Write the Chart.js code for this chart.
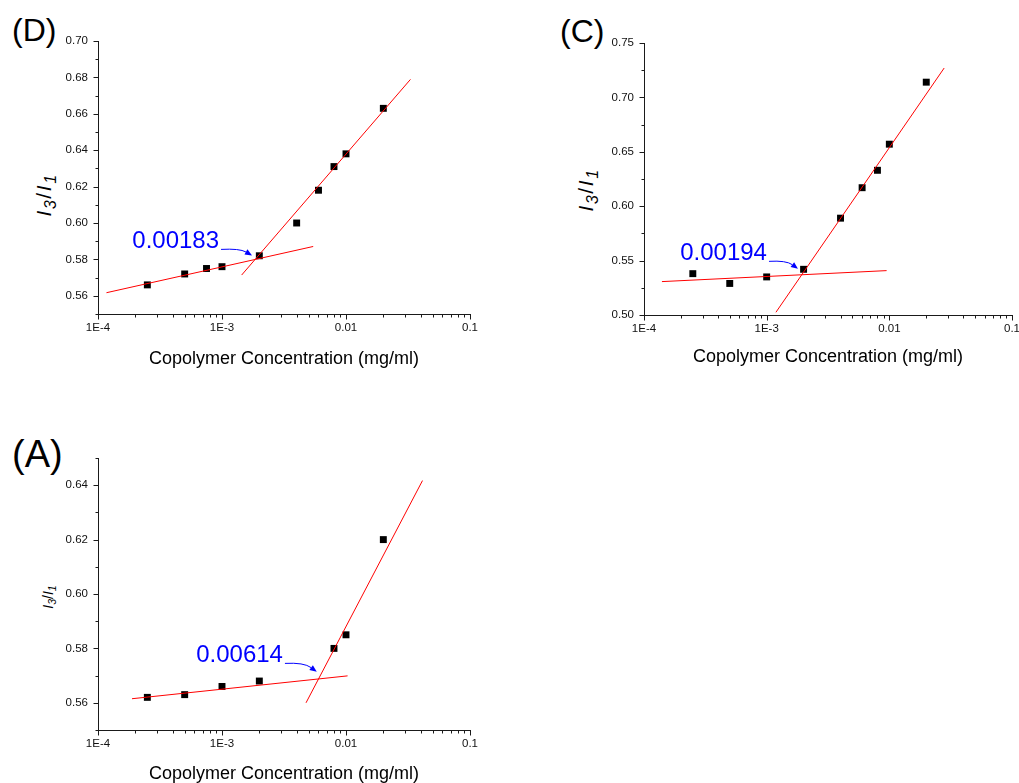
<!DOCTYPE html>
<html>
<head>
<meta charset="utf-8">
<script src="https://cdn.jsdelivr.net/npm/chart.js@4.4.1/dist/chart.umd.min.js"></script>
<style>
  html, body { margin: 0; padding: 0; background: #fff; overflow: hidden; width: 1019px; height: 783px; }
  body { position: relative; font-family: Arial, "Liberation Sans", sans-serif; color: #000; }
  canvas { position: absolute; }
  .panel { position: absolute; line-height: 1; white-space: nowrap; }
  .ytitle { position: absolute; line-height: 1; white-space: nowrap; transform: translate(-50%, -50%) rotate(-90deg); }
  .ytitle i { font-style: italic; }
  .ytitle span { font-size: 0.75em; vertical-align: -0.28em; font-style: italic; }
</style>
</head>
<body>
<div class="panel" style="left:12px; top:13.6px; font-size:32px;">(D)</div>
<div class="panel" style="left:560px; top:14.6px; font-size:32px;">(C)</div>
<div class="panel" style="left:12px; top:434.5px; font-size:38px;">(A)</div>

<div class="ytitle" style="left:46px; top:195px; font-size:21px; letter-spacing:1.6px;"><i>I</i><span>3</span>/<i>I</i><span>1</span></div>
<div class="ytitle" style="left:588px; top:190px; font-size:21px; letter-spacing:1.6px;"><i>I</i><span>3</span>/<i>I</i><span>1</span></div>
<div class="ytitle" style="left:49px; top:597px; font-size:14px;"><i>I</i><span>3</span>/<i>I</i><span>1</span></div>

<canvas id="chartD" width="500" height="380" style="left:0px; top:0px;"></canvas>
<canvas id="chartC" width="500" height="380" style="left:540px; top:0px;"></canvas>
<canvas id="chartA" width="500" height="380" style="left:0px; top:420px;"></canvas>

<script>
// x axis (log) ticks
const xTicks = [1e-4, 1e-3, 1e-2, 1e-1];
const xTickLabels = ['1E-4', '1E-3', '0.01', '0.1'];

// (D)
const concD = [2.5e-4, 5e-4, 7.5e-4, 1e-3, 2e-3, 4e-3, 6e-3, 8e-3, 1e-2, 2e-2];
const ratioD = [0.566, 0.572, 0.575, 0.576, 0.582, 0.600, 0.618, 0.631, 0.638, 0.663];
const lowFitD = [[1.17e-4, 0.5617], [5.44e-3, 0.5871]];
const highFitD = [[1.44e-3, 0.5714], [3.31e-2, 0.6789]];
const yTicksD = [0.56, 0.58, 0.60, 0.62, 0.64, 0.66, 0.68, 0.70];

// (C)
const concC = [2.5e-4, 5e-4, 1e-3, 2e-3, 4e-3, 6e-3, 8e-3, 1e-2, 2e-2];
const ratioC = [0.538, 0.529, 0.535, 0.542, 0.589, 0.617, 0.633, 0.657, 0.714];
const lowFitC = [[1.4e-4, 0.5307], [9.5e-3, 0.5408]];
const highFitC = [[1.19e-3, 0.5025], [2.8e-2, 0.727]];
const yTicksC = [0.50, 0.55, 0.60, 0.65, 0.70, 0.75];

// (A)
const concA = [2.5e-4, 5e-4, 1e-3, 2e-3, 8e-3, 1e-2, 2e-2];
const ratioA = [0.562, 0.563, 0.566, 0.568, 0.580, 0.585, 0.620];
const lowFitA = [[1.88e-4, 0.5615], [1.03e-2, 0.5699]];
const highFitA = [[4.76e-3, 0.5600], [4.14e-2, 0.6417]];
const yTicksA = [0.56, 0.58, 0.60, 0.62, 0.64];

const FONT = 'Arial, "Liberation Sans", sans-serif';
const AXIS = '#1a1a1a';

const decor = {
  id: 'decor',
  afterDraw(chart, args, opts) {
    const ctx = chart.ctx;
    const xs = chart.scales.x, ys = chart.scales.y;
    const area = chart.chartArea;
    ctx.save();
    ctx.strokeStyle = AXIS;
    ctx.lineWidth = 1;
    ctx.beginPath();
    const b = Math.round(area.bottom) + 0.5;
    const lo = Math.round(Math.log10(xs.min)), hi = Math.round(Math.log10(xs.max));
    for (let e = lo; e <= hi; e++) {
      for (let m = 1; m <= 9; m++) {
        const v = m * Math.pow(10, e);
        if (v > xs.max * 1.0001) break;
        const px = Math.round(xs.getPixelForValue(v)) + 0.5;
        ctx.moveTo(px, b);
        ctx.lineTo(px, b + (m === 1 ? 5 : 3));
      }
    }
    const l = Math.round(area.left) + 0.5;
    const yt = opts.yTicks;
    const step = yt[1] - yt[0];
    const minors = yt.map(v => v - step / 2).concat([yt[yt.length - 1] + step / 2]);
    yt.forEach(v => {
      const py = Math.round(ys.getPixelForValue(v)) + 0.5;
      ctx.moveTo(l, py); ctx.lineTo(l - 5, py);
    });
    minors.forEach(v => {
      if (v < ys.min - 1e-9 || v > ys.max + 1e-9) return;
      const py = Math.round(ys.getPixelForValue(v)) + 0.5;
      ctx.moveTo(l, py); ctx.lineTo(l - 3, py);
    });
    ctx.stroke();

    // annotation text + curved arrow
    const a = opts.note;
    const ix = xs.getPixelForValue(a.x), iy = ys.getPixelForValue(a.y);
    const tx = ix + a.textDx, ty = iy + a.textDy;
    ctx.fillStyle = '#0000ff';
    ctx.strokeStyle = '#0000ff';
    ctx.font = '24px ' + FONT;
    ctx.textAlign = 'right';
    ctx.textBaseline = 'alphabetic';
    ctx.fillText(a.text, tx, ty);
    const sx = tx + 2, sy = ty + 1;
    const ex = ix + a.tipDx, ey = iy + a.tipDy;
    const cx = sx + (ex - sx) * 0.6, cy = sy - 1;
    const ang = Math.atan2(ey - cy, ex - cx);
    const hl = 7, hw = 3;
    const bx = ex - hl * Math.cos(ang), by = ey - hl * Math.sin(ang);
    ctx.beginPath();
    ctx.moveTo(sx, sy);
    ctx.quadraticCurveTo(cx, cy, bx, by);
    ctx.stroke();
    ctx.beginPath();
    ctx.moveTo(ex, ey);
    ctx.lineTo(bx + hw * Math.sin(ang), by - hw * Math.cos(ang));
    ctx.lineTo(bx - hw * Math.sin(ang), by + hw * Math.cos(ang));
    ctx.closePath();
    ctx.fill();
    ctx.restore();
  }
};

function pts(xs, ys) {
  return xs.map((x, i) => ({ x: x, y: ys[i] }));
}
function fitPts(fit) {
  return fit.map(p => ({ x: p[0], y: p[1] }));
}

function makeChart(id, cfg) {
  const fitLine = data => ({
    type: 'line', data: data, borderColor: '#ff0000', borderWidth: 1,
    pointRadius: 0, fill: false, showLine: true
  });
  new Chart(document.getElementById(id), {
    type: 'scatter',
    data: {
      datasets: [
        fitLine(fitPts(cfg.low)),
        fitLine(fitPts(cfg.high)),
        {
          data: pts(cfg.conc, cfg.ratio),
          pointStyle: 'rect', pointRadius: 4.9,
          backgroundColor: '#000', borderColor: '#000', borderWidth: 0
        }
      ]
    },
    options: {
      responsive: false,
      animation: false,
      devicePixelRatio: 1,
      layout: { padding: cfg.padding },
      plugins: {
        legend: { display: false },
        tooltip: { enabled: false },
        decor: { yTicks: cfg.yTicks, note: cfg.note }
      },
      scales: {
        x: {
          type: 'logarithmic',
          min: 1e-4, max: 0.1,
          afterBuildTicks: s => { s.ticks = xTicks.map(v => ({ value: v })); },
          afterFit: s => { s.height = cfg.xHeight; },
          grid: { display: false, drawTicks: false },
          border: { display: true, color: AXIS, width: 1 },
          ticks: {
            autoSkip: false, maxRotation: 0, padding: 7, color: '#111',
            font: { family: FONT, size: 11.5 },
            callback: (v, i) => xTickLabels[i]
          },
          title: {
            display: true, text: 'Copolymer Concentration (mg/ml)', color: '#000',
            font: { family: FONT, size: 18 }, padding: { top: 0, bottom: cfg.titlePad }
          }
        },
        y: {
          min: cfg.yMin, max: cfg.yMax,
          afterBuildTicks: s => { s.ticks = cfg.yTicks.map(v => ({ value: v })); },
          afterFit: s => { s.width = cfg.yWidth; },
          grid: { display: false, drawTicks: false },
          border: { display: true, color: AXIS, width: 1 },
          ticks: {
            autoSkip: false, padding: 10, color: '#111',
            font: { family: FONT, size: 11.5 },
            callback: v => Number(v).toFixed(2)
          }
        }
      }
    },
    plugins: [decor]
  });
}

makeChart('chartD', {
  conc: concD, ratio: ratioD, low: lowFitD, high: highFitD, yTicks: yTicksD,
  yMin: 0.55, yMax: 0.70,
  padding: { top: 41, right: 30, bottom: 0, left: 0 }, yWidth: 98, xHeight: 66, titlePad: 10.2,
  note: { x: 0.00183, y: 0.5800, text: '0.00183', textDx: -35.5, textDy: -11, tipDx: -2.5, tipDy: -4 }
});

makeChart('chartC', {
  conc: concC, ratio: ratioC, low: lowFitC, high: highFitC, yTicks: yTicksC,
  yMin: 0.50, yMax: 0.75,
  padding: { top: 43, right: 28, bottom: 0, left: 0 }, yWidth: 104, xHeight: 65, titlePad: 12.2,
  note: { x: 0.00194, y: 0.5371, text: '0.00194', textDx: -35, textDy: -14.3, tipDx: -4, tipDy: -5.8 }
});

makeChart('chartA', {
  conc: concA, ratio: ratioA, low: lowFitA, high: highFitA, yTicks: yTicksA,
  yMin: 0.55, yMax: 0.65,
  padding: { top: 38, right: 30, bottom: 0, left: 0 }, yWidth: 98, xHeight: 70, titlePad: 15.2,
  note: { x: 0.00614, y: 0.5692, text: '0.00614', textDx: -36.8, textDy: -15.4, tipDx: -3, tipDy: -6 }
});
</script>
</body>
</html>
